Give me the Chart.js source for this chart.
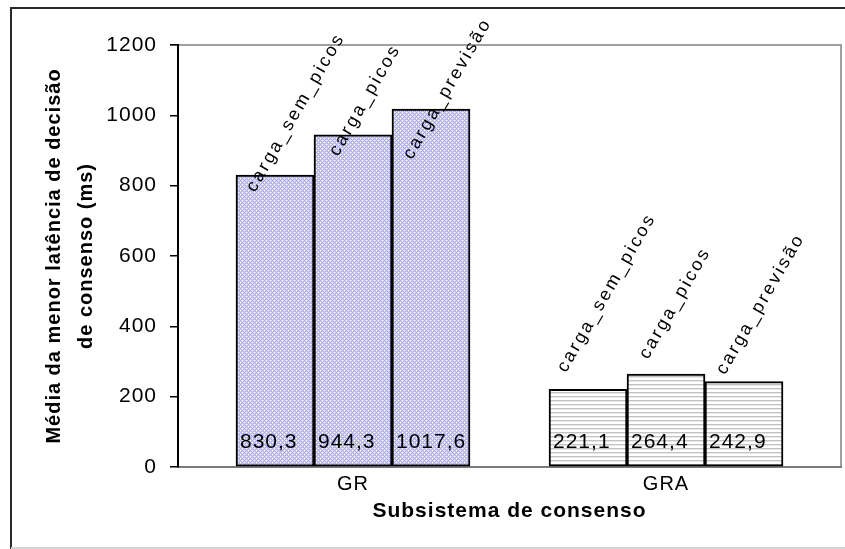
<!DOCTYPE html>
<html>
<head>
<meta charset="utf-8">
<style>
  html, body { margin: 0; padding: 0; background: #fff; }
  #c { display: block; }
</style>
<script src="https://cdn.jsdelivr.net/npm/chart.js@4/dist/chart.umd.min.js"></script>
</head>
<body>
<canvas id="c" width="845" height="549"></canvas>
<script>
// Consensus subsystems on the x axis, one bar per load scenario
const categories = ['GR', 'GRA'];
const seriesNames = ['carga_sem_picos', 'carga_picos', 'carga_previsão'];
const semPicos = [830.3, 221.1];
const picos = [944.3, 264.4];
const previsao = [1017.6, 242.9];
const yTicks = [0, 200, 400, 600, 800, 1000, 1200];

const seriesValues = [semPicos, picos, previsao];

// Offsets of the rotated series names from the top centre of each bar [dx, dy]
const nameOffset = [
  [[-20, 18], [-22, -16]],
  [[-15, 22], [-18, -14]],
  [[-19, 51], [-19, -6]]
];

const FONT = '"Liberation Sans", Arial, sans-serif';
const canvas = document.getElementById('c');
const ctx = canvas.getContext('2d');

// Lavender diamond-lattice fill for GR, light horizontal rules for GRA
function makeDiamondPattern() {
  const p = document.createElement('canvas');
  p.width = 4; p.height = 4;
  const g = p.getContext('2d');
  for (let y = 0; y < 4; y++) {
    for (let x = 0; x < 4; x++) {
      const a = (x + y) % 4, b = ((x - y) % 4 + 4) % 4;
      let col = '#d2d2fc';
      if (a === 0 || b === 0) col = '#a8a8f2';
      else if (a === 2 && b === 2) col = '#ffffff';
      g.fillStyle = col;
      g.fillRect(x, y, 1, 1);
    }
  }
  return ctx.createPattern(p, 'repeat');
}
function makeStripePattern() {
  const p = document.createElement('canvas');
  p.width = 4; p.height = 4;
  const g = p.getContext('2d');
  g.fillStyle = '#ffffff'; g.fillRect(0, 0, 4, 4);
  g.fillStyle = '#c2c2c2'; g.fillRect(0, 0, 4, 1);
  g.fillStyle = '#e8e8e8'; g.fillRect(0, 1, 4, 1);
  return ctx.createPattern(p, 'repeat');
}
const groupFills = [makeDiamondPattern(), makeStripePattern()];

const datasets = seriesNames.map((name, d) => ({
  label: name,
  data: seriesValues[d].map((v, i) => ({ x: i, y: v })),
  backgroundColor: groupFills,
  borderColor: '#000',
  borderWidth: 2,
  borderSkipped: false,
  barThickness: 78
}));

// Chart frame, plot frame and bar annotations
const decorations = {
  id: 'decorations',
  beforeUpdate(chart) { chart.ctx.letterSpacing = '1px'; },
  beforeDraw(chart) {
    const c = chart.ctx;
    c.save();
    c.fillStyle = '#fff';
    c.fillRect(0, 0, chart.width, chart.height);
    c.strokeStyle = '#2a2a2a';
    c.lineWidth = 2;
    c.beginPath();
    c.moveTo(11, chart.height);
    c.lineTo(11, 8);
    c.lineTo(chart.width, 8);
    c.stroke();
    c.strokeStyle = '#d4d4d4';
    c.beginPath();
    c.moveTo(11, chart.height - 1);
    c.lineTo(chart.width, chart.height - 1);
    c.stroke();
    const a = chart.chartArea;
    c.strokeStyle = '#a0a0a0';
    c.beginPath();
    c.moveTo(a.left - 8, a.top);
    c.lineTo(a.right, a.top);
    c.lineTo(a.right, a.bottom);
    c.stroke();
    c.restore();
    chart.ctx.letterSpacing = '1px';
  },
  afterDatasetsDraw(chart) {
    const c = chart.ctx;
    const base = chart.scales.y.getPixelForValue(0);
    chart.data.datasets.forEach((ds, d) => {
      const meta = chart.getDatasetMeta(d);
      meta.data.forEach((bar, i) => {
        const v = ds.data[i].y;
        const left = bar.x - bar.width / 2;
        // value inside the bar, near its base
        c.save();
        c.beginPath();
        c.rect(left, bar.y, bar.width, base - bar.y);
        c.clip();
        c.fillStyle = '#000';
        c.font = '21px ' + FONT;
        c.letterSpacing = '1px';
        c.textAlign = 'left';
        c.textBaseline = 'middle';
        c.fillText(v.toFixed(1).replace('.', ','), left + 4, base - 25);
        c.restore();
        // series name, rotated above the bar
        const off = nameOffset[d][i];
        c.save();
        c.translate(bar.x + off[0], bar.y + off[1]);
        c.rotate(-Math.PI / 3);
        c.fillStyle = '#000';
        c.font = '18px ' + FONT;
        c.letterSpacing = '2.6px';
        c.textAlign = 'left';
        c.textBaseline = 'alphabetic';
        c.fillText(ds.label, 0, 0);
        c.restore();
      });
    });
  }
};

new Chart(ctx, {
  type: 'bar',
  data: { datasets },
  options: {
    responsive: false,
    animation: false,
    events: [],
    layout: { padding: { left: 0, right: 4, top: 45, bottom: 0 } },
    plugins: { legend: { display: false }, tooltip: { enabled: false } },
    scales: {
      x: {
        type: 'linear',
        offset: false,
        min: -0.559,
        max: 1.559,
        afterBuildTicks: s => { s.ticks = categories.map((_, i) => ({ value: i })); },
        afterFit: s => { s.height = 82; },
        ticks: {
          callback: v => categories[v],
          color: '#000',
          font: { family: FONT, size: 20 },
          padding: -3,
          maxRotation: 0
        },
        grid: { display: false },
        border: { display: true, color: '#7a7a7a', width: 2 },
        title: {
          display: true,
          text: 'Subsistema de consenso',
          color: '#000',
          font: { family: FONT, size: 21, weight: 'bold' },
          padding: { top: 0, bottom: 25 }
        }
      },
      y: {
        min: 0,
        max: 1200,
        afterBuildTicks: s => { s.ticks = yTicks.map(v => ({ value: v })); },
        afterFit: s => { s.width = 178; },
        ticks: {
          callback: v => String(v),
          color: '#000',
          font: { family: FONT, size: 21 },
          padding: 13
        },
        grid: { drawOnChartArea: false, drawTicks: true, tickLength: 8, color: '#000', lineWidth: 1.5 },
        border: { display: true, color: '#000', width: 2 },
        title: {
          display: true,
          text: ['Média da menor latência de decisão', 'de consenso (ms)'],
          color: '#000',
          font: { family: FONT, size: 20, weight: 'bold', lineHeight: 1.6 },
          padding: { top: 38, bottom: 0 }
        }
      }
    }
  },
  plugins: [decorations]
});
</script>
</body>
</html>
